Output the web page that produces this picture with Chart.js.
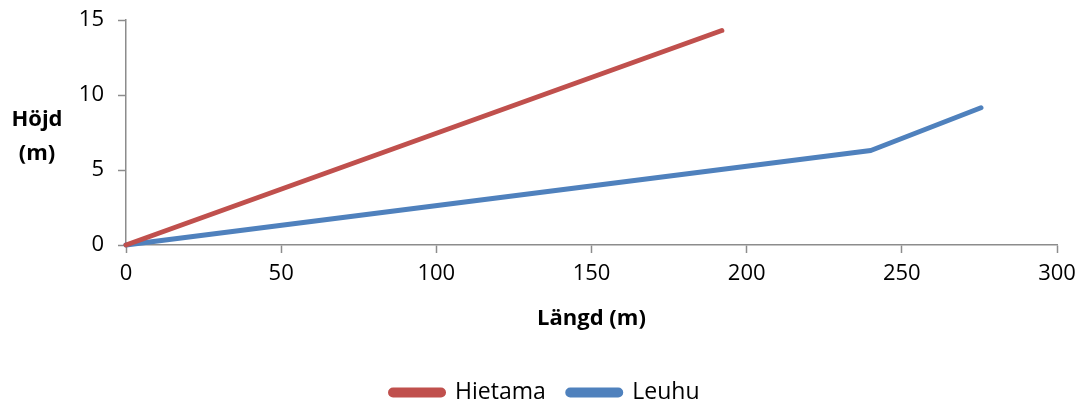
<!DOCTYPE html>
<html>
<head>
<meta charset="utf-8">
<script src="https://cdn.jsdelivr.net/npm/chart.js@4"></script>
<style>
  html, body { margin: 0; padding: 0; background: #fff; }
  #wrap { width: 1090px; height: 407px; }
</style>
</head>
<body>
<div id="wrap"><canvas id="c" width="1090" height="407"></canvas></div>
<script>
// Profile lengths (m) and heights (m) for each route
const hietamaLength = [0, 192];
const hietamaHeight = [0, 14.3];
const leuhuLength = [0, 240, 275.5];
const leuhuHeight = [0, 6.3, 9.15];

const seriesNames = ['Hietama', 'Leuhu'];
const xTitle = 'Längd (m)';
const yTitleLines = ['Höjd', '(m)'];

const FONT = "'Open Sans', 'DejaVu Sans', sans-serif";
const AXIS_GREY = '#8c8c8c';

// Plot frame within the canvas
const PLOT_LEFT = 126;
const PLOT_BOTTOM = 245;
const PAD_TOP = 20;
const PAD_BOTTOM = -7;

const toPoints = (xs, ys) => xs.map((x, i) => ({ x: x, y: ys[i] }));

// Horizontal, two-line y axis title left of the ticks
const yTitlePlugin = {
  id: 'yTitle',
  afterDraw(chart) {
    const ctx = chart.ctx;
    ctx.save();
    ctx.font = "bold 22px " + FONT;
    ctx.fillStyle = '#000';
    ctx.textAlign = 'center';
    ctx.textBaseline = 'middle';
    ctx.fillText(yTitleLines[0], 37, 120);
    ctx.fillText(yTitleLines[1], 37, 154);
    ctx.restore();
  }
};

// Centre the legend across the whole canvas width
const legendSpanPlugin = {
  id: 'legendSpan',
  afterLayout(chart) {
    const lg = chart.legend;
    if (!lg) return;
    lg.left = 0;
    lg.right = chart.width;
    lg.width = chart.width;
  }
};

new Chart(document.getElementById('c'), {
  type: 'scatter',
  data: {
    datasets: [
      {
        label: seriesNames[0],
        data: toPoints(hietamaLength, hietamaHeight),
        showLine: true,
        borderColor: '#C0504D',
        backgroundColor: '#C0504D',
        borderWidth: 5,
        borderCapStyle: 'round',
        pointRadius: 0,
        pointHoverRadius: 0,
        clip: false
      },
      {
        label: seriesNames[1],
        data: toPoints(leuhuLength, leuhuHeight),
        showLine: true,
        borderColor: '#4F81BD',
        backgroundColor: '#4F81BD',
        borderWidth: 5,
        borderCapStyle: 'round',
        borderJoinStyle: 'round',
        pointRadius: 0,
        pointHoverRadius: 0,
        clip: false
      }
    ]
  },
  options: {
    responsive: false,
    animation: false,
    events: [],
    layout: { padding: { left: 0, right: 33, top: PAD_TOP, bottom: PAD_BOTTOM } },
    plugins: {
      tooltip: { enabled: false },
      legend: {
        position: 'bottom',
        labels: {
          font: { family: FONT, size: 23 },
          color: '#000',
          boxWidth: 53,
          boxHeight: 5,
          useBorderRadius: true,
          borderRadius: 2.5,
          padding: 22
        }
      }
    },
    scales: {
      x: {
        type: 'linear',
        min: 0,
        max: 300,
        afterFit(scale) {
          const legendH = scale.chart.legend ? scale.chart.legend.height : 0;
          scale.height = scale.chart.height - PLOT_BOTTOM - legendH - PAD_BOTTOM;
        },
        ticks: {
          stepSize: 50,
          font: { family: FONT, size: 22 },
          color: '#000',
          padding: 8,
          maxRotation: 0
        },
        grid: {
          display: true,
          drawOnChartArea: false,
          drawTicks: true,
          tickLength: 8,
          tickColor: AXIS_GREY,
          tickWidth: 1.5
        },
        border: { display: true, color: AXIS_GREY, width: 1.5 },
        title: {
          display: true,
          text: xTitle,
          font: { family: FONT, size: 22, weight: 'bold' },
          color: '#000',
          align: 'center',
          padding: { top: 0, bottom: 27 }
        }
      },
      y: {
        type: 'linear',
        min: 0,
        max: 15,
        afterFit(scale) {
          scale.width = PLOT_LEFT;
          scale.paddingTop = 0;
          scale.paddingBottom = 0;
        },
        ticks: {
          stepSize: 5,
          font: { family: FONT, size: 22 },
          color: '#000',
          padding: 14
        },
        grid: {
          display: true,
          drawOnChartArea: false,
          drawTicks: true,
          tickLength: 8,
          tickColor: AXIS_GREY,
          tickWidth: 1.5
        },
        border: { display: true, color: AXIS_GREY, width: 1.5 }
      }
    }
  },
  plugins: [yTitlePlugin, legendSpanPlugin]
});
</script>
</body>
</html>
